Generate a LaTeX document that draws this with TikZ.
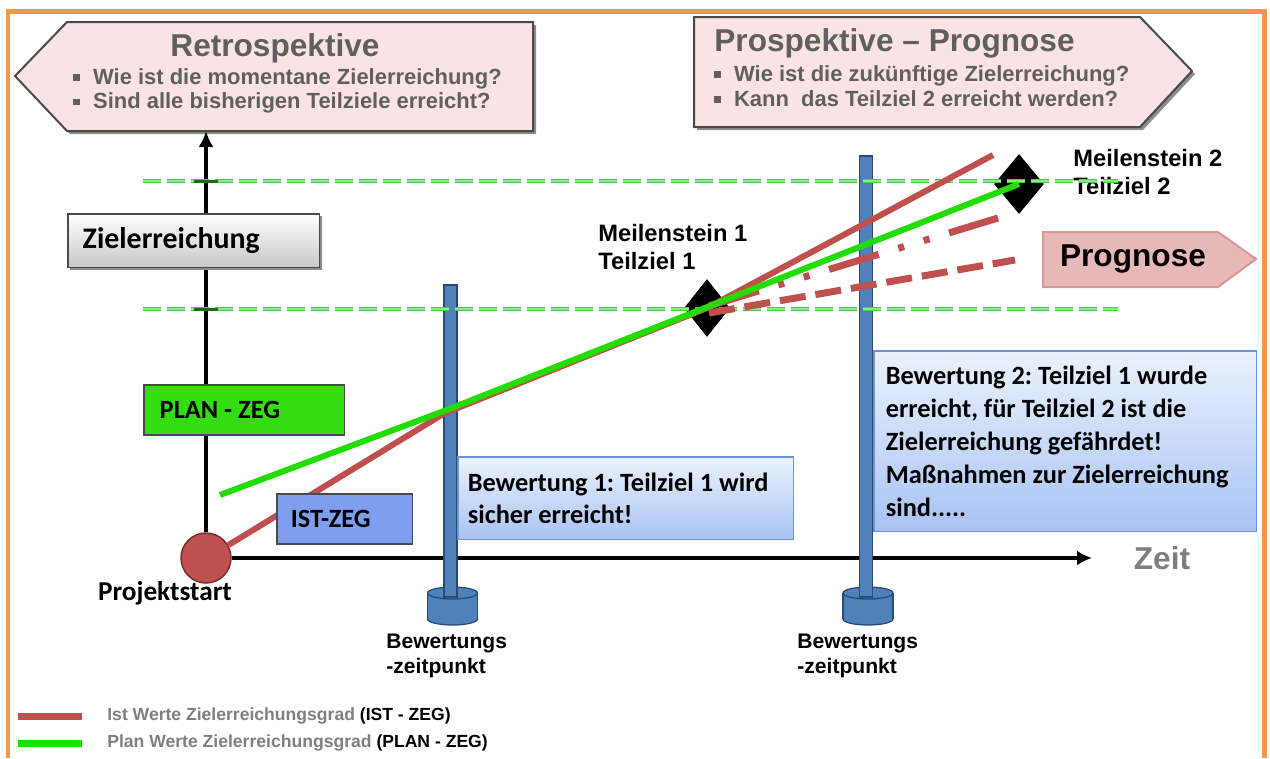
\documentclass[tikz,border=0pt]{standalone}
\usepackage{fontspec}
\setmainfont{Liberation Sans}
\newfontfamily\calibri{Carlito}
\usetikzlibrary{arrows.meta,shapes.geometric}

\definecolor{framecol}{HTML}{F79646}
\definecolor{pinkfill}{HTML}{FBE3E4}
\definecolor{edgegray}{HTML}{4A4A4A}
\definecolor{shadowcol}{HTML}{8C8C8C}
\definecolor{txtgray}{HTML}{5F5F5F}
\definecolor{istred}{HTML}{C0504D}
\definecolor{plangreen}{HTML}{22DD00}
\definecolor{dashgreen}{HTML}{3FCF3F}
\definecolor{dashlight}{HTML}{8FE88F}
\definecolor{planfill}{HTML}{33DD11}
\definecolor{istfill}{HTML}{809EF0}
\definecolor{polefill}{HTML}{4F81BD}
\definecolor{poleedge}{HTML}{2B4A70}
\definecolor{notetop}{HTML}{EBF2FD}
\definecolor{notebot}{HTML}{A8C3F4}
\definecolor{noteedge}{HTML}{6E94D2}
\definecolor{progfill}{HTML}{E6B9B8}
\definecolor{progedge}{HTML}{D99694}
\definecolor{zeitgray}{HTML}{7F7F7F}

\newcommand{\sqb}{\raisebox{0.3ex}{\rule{0.3em}{0.3em}}\hspace{0.6em}}
\frenchspacing

\begin{document}
\begin{tikzpicture}[x=0.02cm, y=-0.02cm,
  pinkarrow/.style={fill=pinkfill, draw=edgegray, line width=0.04cm},
  shadowpath/.style={fill=shadowcol},
  headtxt/.style={text=txtgray, font=\bfseries\fontsize{18}{21}\selectfont, inner sep=0pt},
  bullettxt/.style={text=txtgray, font=\bfseries\fontsize{12.5}{14}\selectfont, align=left, inner sep=0pt, anchor=west},
  msttxt/.style={font=\bfseries\fontsize{13.5}{16.4}\selectfont, align=left, inner sep=0pt, anchor=west},
  bwtxt/.style={font=\bfseries\fontsize{12}{14.2}\selectfont, align=left, inner sep=0pt, anchor=west},
  zegbox/.style={draw=edgegray, line width=0.03cm, anchor=north west, inner ysep=0pt, font=\calibri\bfseries\fontsize{15}{18}\selectfont, align=flush left},
  notebox/.style={draw=noteedge, line width=0.03cm, top color=notetop, bottom color=notebot, anchor=north west, inner ysep=0pt, inner xsep=0.24cm, font=\calibri\bfseries\fontsize{15}{18.4}\selectfont, align=flush left},
  goalline/.style={draw=dashgreen, line width=0.035cm, double=dashlight, double distance=0.025cm, dash pattern=on 0.36cm off 0.12cm},
  axisline/.style={line width=0.075cm},
  istline/.style={draw=istred, line width=0.12cm},
  planline/.style={draw=plangreen, line width=0.12cm},
  pole/.style={fill=polefill, draw=poleedge, line width=0.025cm},
  milestone/.style={diamond, fill=black, inner sep=0pt, minimum width=0.92cm, minimum height=1.16cm},
]
\useasboundingbox (0,0) rectangle (1270,758);

% frame
\draw[framecol, line width=0.1cm] (8,758) -- (8,11) -- (1264,11) -- (1264,758);

% retrospective arrow
\fill[shadowpath, shift={(3,3)}] (15,76) -- (67,22) -- (533,22) -- (533,131) -- (67,131) -- cycle;
\draw[pinkarrow] (15,76) -- (67,22) -- (533,22) -- (533,131) -- (67,131) -- cycle;
\node[headtxt] (retro) at (275,48) {Retrospektive};
\node[bullettxt] (retroq) at (73,91) {\sqb Wie ist die momentane Zielerreichung?\\ \sqb Sind alle bisherigen Teilziele erreicht?};

% prospective arrow
\fill[shadowpath, shift={(3,3)}] (694,17) -- (1140,17) -- (1192,71) -- (1140,127) -- (694,127) -- cycle;
\draw[pinkarrow] (694,17) -- (1140,17) -- (1192,71) -- (1140,127) -- (694,127) -- cycle;
\node[headtxt, anchor=west] (prosp) at (714,43) {Prospektive – Prognose};
\node[bullettxt] (prospq) at (714,86) {\sqb Wie ist die zukünftige Zielerreichung?\\ \sqb Kann~ das Teilziel 2 erreicht werden?};

% prognose arrow
\draw[fill=progfill, draw=progedge, line width=0.04cm] (1043,232) -- (1218,232) -- (1256,259) -- (1218,287) -- (1043,287) -- cycle;
\node[font=\bfseries\fontsize{18}{21}\selectfont, inner sep=0pt] (prog) at (1133,259) {Prognose};

% axes
\node[circle, fill=istred, draw=istred!60!black, line width=0.03cm, minimum size=1cm, inner sep=0pt] (start) at (206,558) {};
\node[font=\calibri\bfseries\fontsize{15.5}{18}\selectfont, inner sep=0pt] (startlbl) at (165,593) {Projektstart};
\coordinate (yend) at (206,131);
\coordinate (xend) at (1092,558);
\draw[axisline, -{Latex[length=0.32cm, width=0.3cm]}] (start.north) -- (yend);
\draw[axisline, -{Latex[length=0.3cm, width=0.3cm]}] (start.east) -- (xend);
\node[text=zeitgray, font=\bfseries\fontsize{18}{21}\selectfont, inner sep=0pt] (zeit) at (1162,558) {Zeit};

% evaluation poles
\foreach \px/\ptop in {450.5/285, 866/156} {
  \filldraw[pole] ({\px+2},619) ellipse [x radius=0.5cm, y radius=0.12cm];
  \fill[polefill] ({\px-23},593) rectangle ({\px+27},619);
  \draw[poleedge, line width=0.025cm] ({\px-23},593) -- ({\px-23},619) ({\px+27},593) -- ({\px+27},619);
  \filldraw[pole] ({\px+2},593) ellipse [x radius=0.5cm, y radius=0.12cm];
  \filldraw[pole] ({\px-6.5},\ptop) rectangle ({\px+6.5},597);
}
\node[bwtxt] (bw1) at (386,656) {Bewertungs\\-zeitpunkt};
\node[bwtxt] (bw2) at (797,656) {Bewertungs\\-zeitpunkt};

% milestones
\node[milestone] (ms1) at (707,308) {};
\node[milestone, minimum width=1cm, minimum height=1.2cm] (ms2) at (1019,184) {};
\node[msttxt] (ms1lbl) at (598,247) {Meilenstein 1\\Teilziel 1};
\node[msttxt] (ms2lbl) at (1073,172) {Meilenstein 2\\Teilziel 2};

% goal levels
\draw[goalline] (143,181) -- (1118,181);
\draw[goalline] (143,309) -- (1118,309);
\draw[dashgreen!50!black, line width=0.06cm] (194,181) -- (218,181) (194,309) -- (218,309);

% plan and actual values
\coordinate (plan0) at (220,495);
\coordinate (cut1) at (444,411);
\coordinate (red1) at (707,308);
\coordinate (redend) at (993,155);
\coordinate (dotend) at (998,218);
\coordinate (dashend) at (1015,260);
\draw[istline, dash pattern=on 1.04cm off 0.41cm on 0.12cm off 0.41cm on 0.12cm off 0.41cm, line width=0.14cm] (709,306) -- (dotend);
\draw[istline, dash pattern=on 0.52cm off 0.2cm, line width=0.14cm] (709,313) -- (dashend);
\draw[istline] (start.30) -- ([yshift=-0.05cm]cut1) -- (red1) -- (redend);
\draw[planline] (plan0) -- (cut1) -- (ms2.center);

% boxes
\fill[shadowcol, shift={(3,3)}] (67,213) rectangle (319,267);
\node[zegbox, top color=white, bottom color=black!22, text width=4.44cm, inner xsep=0.3cm, minimum height=1.08cm, font=\calibri\bfseries\fontsize{17}{20}\selectfont] (ziel) at (67,213) {Zielerreichung};
\node[zegbox, fill=planfill, text width=3.38cm, inner xsep=0.32cm, minimum height=1cm] (plan) at (143,384) {PLAN - ZEG};
\node[zegbox, fill=istfill, text width=2.16cm, inner xsep=0.28cm, minimum height=1cm] (ist) at (276,493) {IST-ZEG};
\node[notebox, inner xsep=0.2cm, text width=6.32cm, minimum height=1.66cm] (note1) at (457,456) {Bewertung 1: Teilziel 1 wird\\sicher erreicht!};
\node[notebox, text width=7.18cm, minimum height=3.62cm, font=\calibri\bfseries\fontsize{15}{18.7}\selectfont] (note2) at (873,350) {Bewertung 2: Teilziel 1 wurde\\erreicht, für Teilziel 2 ist die\\Zielerreichung gefährdet!\\Maßnahmen zur Zielerreichung\\sind.....};

% legend
\coordinate (lgA) at (18,716);
\coordinate (lgB) at (82,716);
\coordinate (lgC) at (18,743);
\coordinate (lgD) at (82,743);
\draw[istline, line width=0.14cm] (lgA) -- (lgB);
\draw[planline, line width=0.14cm] (lgC) -- (lgD);
\node[anchor=west, inner sep=0pt, text=zeitgray, font=\bfseries\fontsize{10}{12}\selectfont] (leg1) at (107,716) {Ist Werte Zielerreichungsgrad \textcolor{black}{(IST - ZEG)}};
\node[anchor=west, inner sep=0pt, text=zeitgray, font=\bfseries\fontsize{10}{12}\selectfont] (leg2) at (107,743) {Plan Werte Zielerreichungsgrad \textcolor{black}{(PLAN - ZEG)}};
\end{tikzpicture}
\end{document}
